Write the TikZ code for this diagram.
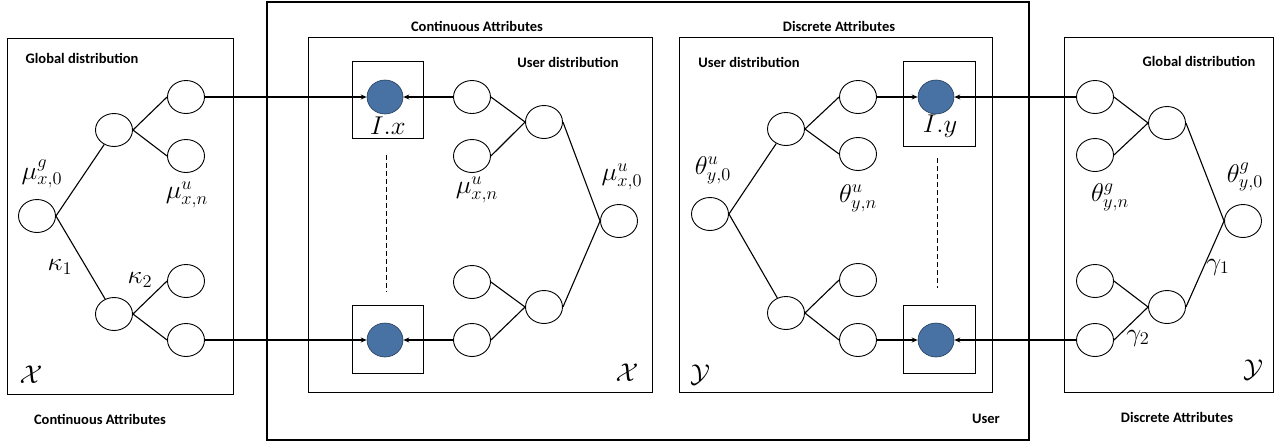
\documentclass[tikz,border=0pt]{standalone}
\usepackage{fontspec}
\usepackage{graphicx}
\newfontfamily\lblfont{Carlito}[BoldFont={Carlito Bold}]
\usetikzlibrary{shapes.geometric,arrows.meta}
\definecolor{nodeblue}{RGB}{72,114,164}
\definecolor{nodeedge}{RGB}{35,60,90}
\newcommand{\mlab}[1]{\scalebox{1.28}[1.24]{$#1$}}
\begin{document}
\begin{tikzpicture}[x=1pt,y=-1pt,
  var/.style={ellipse,draw,line width=0.9pt,minimum width=37pt,minimum height=33pt,inner sep=0pt},
  obs/.style={ellipse,draw=nodeedge,fill=nodeblue,line width=0.6pt,minimum width=36pt,minimum height=34pt,inner sep=0pt},
  panel/.style={draw,line width=0.8pt},
  plate/.style={draw,line width=0.8pt},
  edge/.style={line width=1.1pt},
  arr/.style={line width=1.1pt,-{Stealth[length=6pt,width=5pt]}},
  ttl/.style={font=\lblfont\fontsize{14.5}{17}\selectfont\bfseries,inner sep=0pt},
  mth/.style={font=\fontsize{20.74}{25}\selectfont,inner sep=0pt}
]
\useasboundingbox (0,0) rectangle (1283,445);
% outer user box
\draw[line width=2.4pt] (267,2) rectangle (1029,440);
% panels
\draw[panel] (7,38) rectangle (233,394);
\draw[panel] (308,37) rectangle (652,392);
\draw[panel] (679,37) rectangle (992,392);
\draw[panel] (1064,37) rectangle (1273,392);
% plates
\draw[plate] (352,61) rectangle (423,138);
\draw[plate] (352,305) rectangle (423,373);
\draw[plate] (903,61) rectangle (975,146);
\draw[plate] (903,305) rectangle (975,373);

% titles
\node[ttl] (t1) at (82,58) {Global distribution};
\node[ttl] (t2) at (100,419) {Continuous Attributes};
\node[ttl] (t3) at (477,26) {Continuous Attributes};
\node[ttl] (t4) at (568,62) {User distribution};
\node[ttl] (t5) at (839,26) {Discrete Attributes};
\node[ttl] (t6) at (749,62) {User distribution};
\node[ttl] (t7) at (986,419) {User};
\node[ttl] (t8) at (1199,61) {Global distribution};
\node[ttl] (t9) at (1177,417) {Discrete Attributes};

% ---- left global panel
\node[var] (gr) at (37,216) {};
\node[var] (gm1) at (114,130) {};
\node[var] (gm2) at (114,314) {};
\node[var] (gc1) at (186,97) {};
\node[var] (gc2) at (186,156) {};
\node[var] (gc3) at (186,281) {};
\node[var] (gc4) at (186,340) {};
\draw[edge] (gr.east) -- (gm1);
\draw[edge] (gr.east) -- (gm2);
\draw[edge] (gm1.east) -- (gc1.west);
\draw[edge] (gm1.east) -- (gc2.west);
\draw[edge] (gm2.east) -- (gc3.west);
\draw[edge] (gm2.east) -- (gc4.west);
\node[mth] (l1) at (42,174) {\mlab{\mu^g_{x,0}}};
\node[mth] (l2) at (187,195) {\mlab{\mu^u_{x,n}}};
\node[mth] (l3) at (60,267) {\mlab{\kappa_1}};
\node[mth] (l4) at (140,280) {\mlab{\kappa_2}};
\node[mth] (l5) at (31,375) {\mlab{\mathcal{X}}};

% ---- middle-left user continuous panel
\node[obs] (ox1) at (385,97) {};
\node[obs] (ox2) at (385,340) {};
\node[var] (uc1) at (472,97) {};
\node[var] (uc2) at (472,156) {};
\node[var] (uc3) at (472,282) {};
\node[var] (uc4) at (472,340) {};
\node[var] (um1) at (544,122) {};
\node[var] (um2) at (544,307) {};
\node[var] (ur) at (619,221) {};
\draw[edge] (uc1.east) -- (um1.west);
\draw[edge] (uc2.east) -- (um1.west);
\draw[edge] (uc3.east) -- (um2.west);
\draw[edge] (uc4.east) -- (um2.west);
\draw[edge] (um1.east) -- (ur.west);
\draw[edge] (um2.east) -- (ur.west);
\draw[arr] (uc1.west) -- (ox1.east);
\draw[arr] (uc4.west) -- (ox2.east);
\draw[arr] (gc1.east) -- (ox1.west);
\draw[arr] (gc4.east) -- (ox2.west);
\coordinate (dx1) at (386,155);
\coordinate (dx2) at (386,292);
\draw[line width=0.9pt,dash pattern=on 5pt off 3pt] (dx1) -- (dx2);
\node[mth] (l6) at (388,126) {\mlab{I.x}};
\node[mth] (l7) at (477,190) {\mlab{\mu^u_{x,n}}};
\node[mth] (l8) at (622,177) {\mlab{\mu^u_{x,0}}};
\node[mth] (l9) at (627,373) {\mlab{\mathcal{X}}};

% ---- middle-right user discrete panel
\node[var] (vr) at (710,214) {};
\node[var] (vm1) at (786,129) {};
\node[var] (vm2) at (786,313) {};
\node[var] (vc1) at (858,97) {};
\node[var] (vc2) at (858,154) {};
\node[var] (vc3) at (858,280) {};
\node[var] (vc4) at (858,340) {};
\node[obs] (oy1) at (936,97) {};
\node[obs] (oy2) at (936,340) {};
\draw[edge] (vr.east) -- (vm1);
\draw[edge] (vr.east) -- (vm2);
\draw[edge] (vm1.east) -- (vc1.west);
\draw[edge] (vm1.east) -- (vc2.west);
\draw[edge] (vm2.east) -- (vc3.west);
\draw[edge] (vm2.east) -- (vc4.west);
\draw[arr] (vc1.east) -- (oy1.west);
\draw[arr] (vc4.east) -- (oy2.west);
\coordinate (dy1) at (937,158);
\coordinate (dy2) at (937,288);
\draw[line width=0.9pt,dash pattern=on 5pt off 3pt] (dy1) -- (dy2);
\node[mth] (l10) at (940,126) {\mlab{I.y}};
\node[mth] (l11) at (713,170) {\mlab{\theta^u_{y,0}}};
\node[mth] (l12) at (858,198) {\mlab{\theta^u_{y,n}}};
\node[mth] (l13) at (700,375) {\mlab{\mathcal{Y}}};

% ---- right global panel
\node[var] (hc1) at (1095,97) {};
\node[var] (hc2) at (1095,155) {};
\node[var] (hc3) at (1095,281) {};
\node[var] (hc4) at (1095,340) {};
\node[var] (hm1) at (1167,123) {};
\node[var] (hm2) at (1167,307) {};
\node[var] (hr) at (1243,221) {};
\draw[edge] (hc1.east) -- (hm1.west);
\draw[edge] (hc2.east) -- (hm1.west);
\draw[edge] (hc3.east) -- (hm2.west);
\draw[edge] (hc4.east) -- (hm2.west);
\draw[edge] (hm1.east) -- (hr.west);
\draw[edge] (hm2.east) -- (hr.west);
\draw[arr] (hc1.west) -- (oy1.east);
\draw[arr] (hc4.west) -- (oy2.east);
\node[mth] (l14) at (1110,197) {\mlab{\theta^g_{y,n}}};
\node[mth] (l15) at (1245,177) {\mlab{\theta^g_{y,0}}};
\node[mth] (l16) at (1218,267) {\mlab{\gamma_1}};
\node[mth] (l17) at (1138,338) {\mlab{\gamma_2}};
\node[mth] (l18) at (1253,370) {\mlab{\mathcal{Y}}};
\end{tikzpicture}
\end{document}
